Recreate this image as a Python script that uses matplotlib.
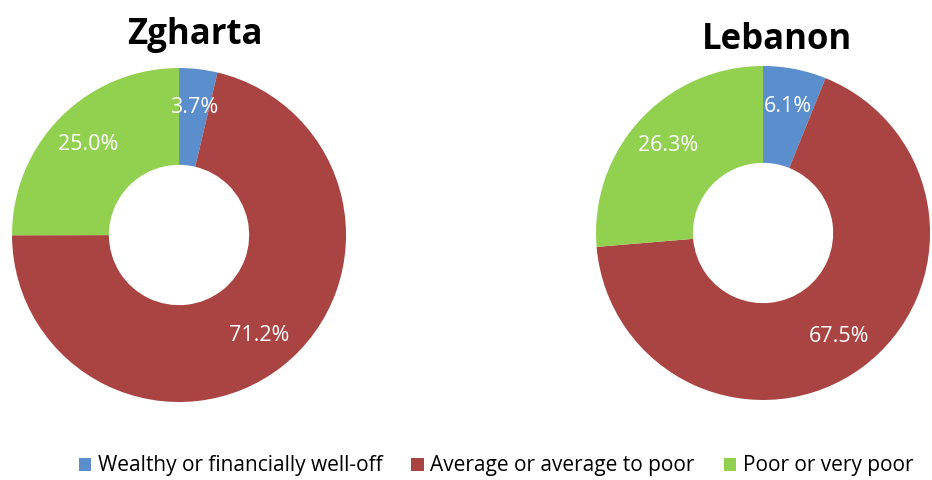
import matplotlib.pyplot as plt

# datos de cada dona
categorias = ['Wealthy or financially well-off', 'Average or average to poor', 'Poor or very poor']
zgharta = [3.7, 71.2, 25.0]
lebanon = [6.1, 67.5, 26.3]
colores = ['#5B8ECC', '#A94442', '#92D050']

plt.rcParams['font.family'] = ['Open Sans', 'DejaVu Sans']

fig = plt.figure(figsize=(9.32, 4.8), dpi=100)


def dona(ax, valores, titulo, tx, ty):
    total = sum(valores)
    # mostrar el valor original (no normalizado a 100)
    wedges, _, autotexts = ax.pie(valores, colors=colores, startangle=90, counterclock=False,
                                  autopct=lambda p: f'{p * total / 100:.1f}%', pctdistance=0.77,
                                  wedgeprops=dict(width=0.58, edgecolor='none'))
    for t in autotexts:
        t.set_color('white')
        t.set_fontsize(15.5)
    ax.set_xlim(-1, 1)
    ax.set_ylim(-1, 1)
    ax.set_aspect('equal')
    fig.text(tx, ty, titulo, ha='center', va='center', fontsize=25, fontweight='bold')
    return wedges


ax1 = fig.add_axes([0.0129, 0.1625, 0.3584, 0.6958])
w = dona(ax1, zgharta, 'Zgharta', 195 / 932, 1 - 35 / 480)

ax2 = fig.add_axes([0.6395, 0.1667, 0.3584, 0.6958])
dona(ax2, lebanon, 'Lebanon', 777 / 932, 1 - 40 / 480)

fig.legend(w, categorias, loc='center', bbox_to_anchor=(496 / 932, 1 - 466 / 480), ncol=3,
           frameon=False, fontsize=15, handlelength=0.6, handleheight=0.6,
           handletextpad=0.3, columnspacing=1.4)

fig.savefig('out.png', dpi=100)
